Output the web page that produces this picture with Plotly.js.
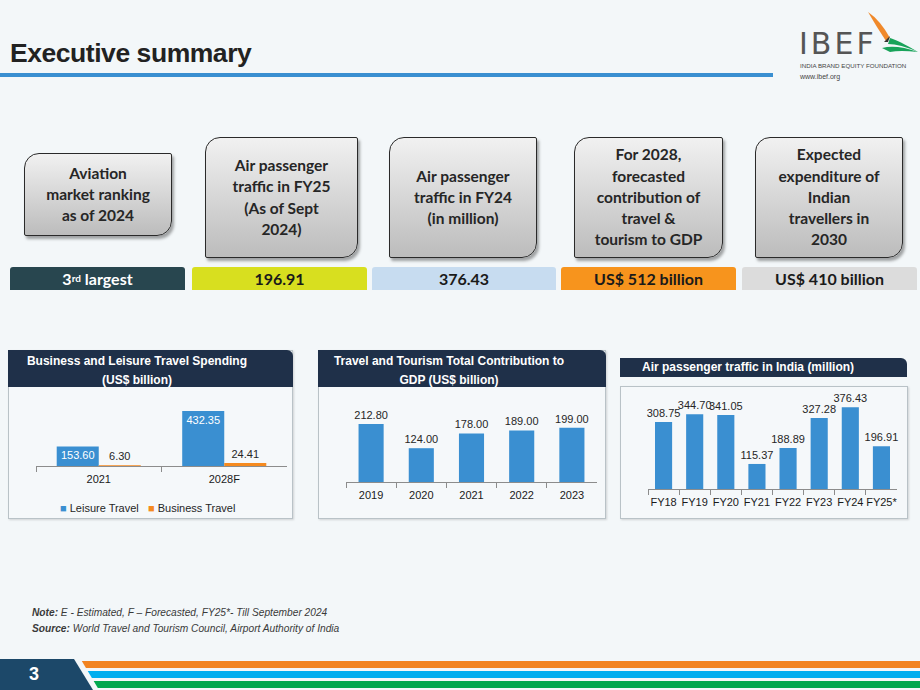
<!DOCTYPE html>
<html>
<head>
<meta charset="utf-8">
<script src="https://cdn.plot.ly/plotly-3.0.1.min.js"></script>
<style>
  html, body { margin:0; padding:0; }
  body { width:920px; height:690px; position:relative; overflow:hidden; background:#f3f7f9; font-family:"Liberation Sans", Arial, sans-serif; }
  .abs { position:absolute; }
  .title { left:10px; top:38px; font-size:26.5px; font-weight:bold; color:#222; letter-spacing:-0.45px; }
  .bluebar { left:0; top:73px; width:773px; height:4px; background:#3a8fd1; }
  .box { position:absolute; box-sizing:border-box; border:1.6px solid #2a2a2a; border-radius:15px 2px 15px 2px;
         background:linear-gradient(#f1f1f1, #bcbcbc); box-shadow:2px 3px 3px rgba(0,0,0,0.35);
         display:flex; align-items:center; justify-content:center; text-align:center;
         font-family:Lato, "Open Sans", sans-serif; font-weight:bold; font-size:15.5px; line-height:21.3px; color:#262626; }
  .val { position:absolute; top:267px; height:23px; border-radius:3px 3px 0 0; display:flex; align-items:center; justify-content:center;
         font-family:Lato, "Open Sans", sans-serif; font-weight:bold; font-size:16px; color:#1a1a1a; }
  .panel { position:absolute; box-sizing:border-box; border:1px solid #b9c2c7; background:#f5f8fa; box-shadow:1px 1px 2px rgba(0,0,0,0.15); }
  .phead { position:absolute; background:#1f3049; color:#fff; font-weight:bold; font-size:12px; line-height:19px; border-radius:0 6px 0 0; }
  .note { left:32px; font-size:10.2px; font-style:italic; color:#3a3a3a; }
  #plot { position:absolute; left:0; top:0; width:920px; height:690px; z-index:5; }
</style>
</head>
<body>
<div class="abs title">Executive summary</div>
<div class="abs bluebar"></div>

<!-- logo -->
<div class="abs" style="left:799px;top:26px;font-family:'DejaVu Sans',sans-serif;font-size:30px;color:#555;letter-spacing:3px;">IBEF</div>
<svg class="abs" style="left:860px;top:8px" width="60" height="50">
  <path d="M8 4 Q20 12 30 30 L26 33 Q16 18 8 4 Z" fill="#f0892a"/>
  <path d="M24 34 L30 28 L28 34 Z" fill="#333"/>
  <path d="M22 40 Q36 36 58 44 Q40 42 30 44 Z" fill="#19a35a"/>
  <path d="M30 30 Q38 32 58 44 Q40 36 28 36 Z" fill="#19a35a"/>
</svg>
<div class="abs" style="left:800px;top:62px;font-size:6.2px;color:#444;">INDIA BRAND EQUITY FOUNDATION</div>
<div class="abs" style="left:800px;top:73px;font-size:7px;color:#444;">www.ibef.org</div>

<!-- top boxes -->
<div class="box" style="left:24px;top:153px;width:148px;height:83px;">Aviation<br>market ranking<br>as of 2024</div>
<div class="box" style="left:205px;top:137px;width:153px;height:121px;">Air passenger<br>traffic in FY25<br>(As of Sept<br>2024)</div>
<div class="box" style="left:389px;top:137px;width:148px;height:121px;">Air passenger<br>traffic in FY24<br>(in million)</div>
<div class="box" style="left:574px;top:137px;width:149px;height:121px;">For 2028,<br>forecasted<br>contribution of<br>travel &amp;<br>tourism to GDP</div>
<div class="box" style="left:755px;top:137px;width:148px;height:121px;">Expected<br>expenditure of<br>Indian<br>travellers in<br>2030</div>

<div class="val" style="left:10px;width:175px;background:#28464f;color:#fff;">3<sup style="font-size:10px;line-height:0;position:relative;top:-1px;">rd</sup>&nbsp;largest</div>
<div class="val" style="left:192px;width:175px;background:#d8df1f;">196.91</div>
<div class="val" style="left:372px;width:184px;background:#c7dcf0;">376.43</div>
<div class="val" style="left:561px;width:175px;background:#f7941d;">US$ 512 billion</div>
<div class="val" style="left:742px;width:175px;background:#dcdcdc;">US$ 410 billion</div>

<!-- chart panels -->
<div class="panel" style="left:8px;top:350px;width:285px;height:169px;"></div>
<div class="phead" style="left:8px;top:350px;width:285px;height:37px;">
  <div style="position:absolute;left:0;width:258px;top:2px;text-align:center;line-height:19px;">Business and Leisure Travel Spending<br>(US$ billion)</div>
</div>
<div class="panel" style="left:318px;top:350px;width:288px;height:169px;"></div>
<div class="phead" style="left:318px;top:350px;width:288px;height:37px;">
  <div style="position:absolute;left:0;width:262px;top:2px;text-align:center;line-height:19px;">Travel and Tourism Total Contribution to<br>GDP (US$ billion)</div>
</div>
<div class="phead" style="left:620px;top:358px;width:287px;height:19px;">
  <div style="position:absolute;left:22px;top:0;">Air passenger traffic in India (million)</div>
</div>
<div class="panel" style="left:620px;top:386px;width:288px;height:133px;"></div>

<!-- notes -->
<div class="abs note" style="top:607px;"><b>Note:</b> E - Estimated, F – Forecasted, FY25*- Till September 2024</div>
<div class="abs note" style="top:623px;"><b>Source:</b> World Travel and Tourism Council, Airport Authority of India</div>

<!-- footer -->
<div class="abs" style="left:60px;top:661px;width:860px;height:7px;background:#f28421;"></div>
<div class="abs" style="left:60px;top:671px;width:860px;height:7px;background:#00aeef;"></div>
<div class="abs" style="left:60px;top:681px;width:860px;height:7px;background:#00a84f;"></div>
<div class="abs" style="left:0;top:658px;width:110px;height:32px;background:#f3f7f9;clip-path:polygon(0 0, 80px 0, 99px 32px, 0 32px);"></div>
<div class="abs" style="left:0;top:659px;width:100px;height:31px;background:#1c4869;clip-path:polygon(0 0, 74px 0, 93px 31px, 0 31px);"></div>
<div class="abs" style="left:29px;top:664px;font-size:18px;font-weight:bold;color:#fff;">3</div>

<div id="plot"></div>
<script>
// ---- data ----
const spendCategories = ['2021', '2028F'];
const leisureTravel = [153.60, 432.35];
const businessTravel = [6.30, 24.41];

const gdpYears = ['2019', '2020', '2021', '2022', '2023'];
const gdpContribution = [212.80, 124.00, 178.00, 189.00, 199.00];

const fyLabels = ['FY18', 'FY19', 'FY20', 'FY21', 'FY22', 'FY23', 'FY24', 'FY25*'];
const airPassengers = [308.75, 344.70, 341.05, 115.37, 188.89, 327.28, 376.43, 196.91];

// ---- helpers ----
const W = 920, H = 690;
const px = p => p / W;
const py = p => 1 - p / H;
const BLUE = '#3a8fd1', ORANGE = '#f58a1f';
const fmt = v => v.toFixed(2);
const tickFont = {family: 'Liberation Sans, Arial, sans-serif', size: 11, color: '#1a1a1a'};
const labelFont = {family: 'Liberation Sans, Arial, sans-serif', size: 11, color: '#262626'};

function xAxis(l, r, anchor) {
  return {domain: [px(l), px(r)], anchor: anchor, type: 'category', showline: true, linecolor: '#8c8c8c', linewidth: 1,
          ticks: 'outside', tickson: 'boundaries', ticklen: 5, tickcolor: '#8c8c8c', tickfont: tickFont,
          tickangle: 0, ticklabelstandoff: 3,
          showgrid: false, zeroline: false, fixedrange: true};
}
function yAxis(bottom, top, max, anchor) {
  return {domain: [py(bottom), py(top)], anchor: anchor, range: [0, max], visible: false, fixedrange: true};
}

const traces = [
  {type: 'bar', x: spendCategories, y: leisureTravel, xaxis: 'x', yaxis: 'y', marker: {color: BLUE},
   width: 0.335, offset: -0.335, text: leisureTravel.map(fmt), textposition: 'inside', insidetextanchor: 'end',
   textfont: {family: labelFont.family, size: 11, color: '#ffffff'}, constraintext: 'none', cliponaxis: false, hoverinfo: 'none'},
  {type: 'bar', x: spendCategories, y: businessTravel, xaxis: 'x', yaxis: 'y', marker: {color: ORANGE},
   width: 0.335, offset: 0, text: businessTravel.map(fmt), textposition: 'outside',
   textfont: labelFont, constraintext: 'none', cliponaxis: false, hoverinfo: 'none'},
  {type: 'bar', x: gdpYears, y: gdpContribution, xaxis: 'x2', yaxis: 'y2', marker: {color: BLUE},
   width: 0.5, offset: -0.25, text: gdpContribution.map(fmt), textposition: 'outside',
   textfont: labelFont, constraintext: 'none', cliponaxis: false, hoverinfo: 'none'},
  {type: 'bar', x: fyLabels, y: airPassengers, xaxis: 'x3', yaxis: 'y3', marker: {color: BLUE},
   width: 0.55, offset: -0.275, text: airPassengers.map(fmt), textposition: 'outside',
   textfont: labelFont, constraintext: 'none', cliponaxis: false, hoverinfo: 'none'}
];

const layout = {
  width: W, height: H, margin: {l: 0, r: 0, t: 0, b: 0},
  paper_bgcolor: 'rgba(0,0,0,0)', plot_bgcolor: 'rgba(0,0,0,0)',
  barmode: 'overlay', showlegend: false,
  xaxis: xAxis(36, 287, 'y'),   yaxis: yAxis(466, 400, 519, 'x'),
  xaxis2: xAxis(346, 597, 'y2'), yaxis2: yAxis(482, 400, 300.8, 'x2'),
  xaxis3: xAxis(648, 897, 'y3'), yaxis3: yAxis(489, 400, 410, 'x3'),
  annotations: [{
    xref: 'paper', yref: 'paper', x: px(58), y: py(508), xanchor: 'left', yanchor: 'middle', showarrow: false,
    text: '<span style="color:' + BLUE + '">■</span> Leisure Travel   <span style="color:' + ORANGE + '">■</span> Business Travel',
    font: {family: 'Liberation Sans, Arial, sans-serif', size: 11, color: '#262626'}
  }]
};

Plotly.newPlot('plot', traces, layout, {staticPlot: true, displayModeBar: false});
</script>
</body>
</html>
